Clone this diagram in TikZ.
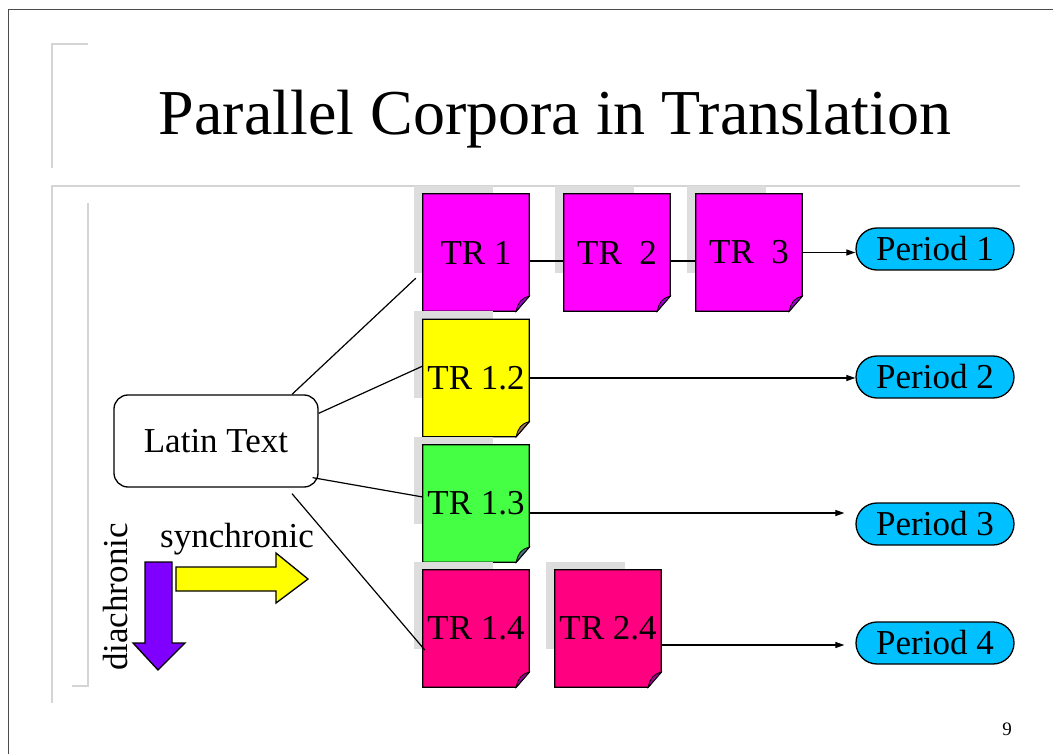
\documentclass[tikz,border=0pt]{standalone}
\usepackage{fontspec}
\setmainfont{Liberation Serif}
\usetikzlibrary{arrows.meta,calc}
\pgfdeclarelayer{base}
\pgfdeclarelayer{bg}
\pgfsetlayers{base,bg,main}
\definecolor{cMag}{HTML}{FF00FF}
\definecolor{cYel}{HTML}{FFFF00}
\definecolor{cGrn}{HTML}{44FF44}
\definecolor{cPnk}{HTML}{FF0080}
\definecolor{cCya}{HTML}{00C0FF}
\definecolor{cPur}{HTML}{8000FF}
\definecolor{cShd}{HTML}{DDDDDD}
\definecolor{cFrm}{HTML}{D4D4D4}
\newcommand\mydocbox[2]{%
  \begin{pgfonlayer}{bg}
    \fill[cShd] ($(#1.north west)+(-9,-8)$) rectangle ($(#1.north west)+(70,79)$);
    \filldraw[fill=#2,draw=black,line width=1.3pt,line join=miter]
      (#1.north west) -- (#1.north east) -- ($(#1.south east)+(0,-15)$)
      -- ($(#1.south east)+(-13,0)$) -- (#1.south west) -- cycle;
    \filldraw[fill=#2!55!cPur!80!black,draw=black,line width=0.8pt]
      ($(#1.south east)+(0,-15)$) .. controls ($(#1.south east)+(-8,-13)$) and ($(#1.south east)+(-11,-9)$) .. ($(#1.south east)+(-13,0)$) -- cycle;
  \end{pgfonlayer}}
\tikzset{
  doc/.style={minimum width=106pt,minimum height=117pt,inner sep=0pt,font=\fontsize{35}{40}\selectfont},
  period/.style={draw,fill=cCya,rounded corners=21pt,minimum width=158pt,minimum height=42pt,inner sep=0pt,line width=1.3pt,font=\fontsize{35}{40}\selectfont},
  conn/.style={line width=1.2pt},
  arr/.style={line width=1.2pt,-{Triangle[length=9pt,width=6pt]}},
  frm/.style={cFrm,line width=1.2pt},
  big/.style={line width=1.3pt,line join=miter}
}
\begin{document}
\begin{tikzpicture}[x=1pt,y=-1pt]
\useasboundingbox (0,0) rectangle (1053,754);
\begin{pgfonlayer}{base}
  \fill[white] (0,0) rectangle (1053,754);
  \draw[frm] (88,44) -- (52,44) -- (52,168);
  \draw[frm] (1020,186) -- (52,186) -- (52,703);
  \draw[frm] (88,203) -- (88,686) -- (72,686);
\end{pgfonlayer}
\draw[line width=1pt,black!70] (8,754) -- (8,10) -- (1053,10);

\node[anchor=base,font=\fontsize{64}{70}\selectfont] (title) at (555,135) {Parallel Corpora in Translation};

\node[doc] (tr1) at (476,252.5) {TR 1};
\node[doc] (tr2) at (617,252.5) {TR\ \ 2};
\node[doc] (tr3) at (749,252.5) {TR\ \ 3};
\node[doc] (tr12) at (476,378) {TR 1.2};
\node[doc] (tr13) at (476,503.5) {TR 1.3};
\node[doc] (tr14) at (476,628.5) {TR 1.4};
\node[doc] (tr24) at (608,628.5) {TR 2.4};
\mydocbox{tr1}{cMag}
\mydocbox{tr2}{cMag}
\mydocbox{tr3}{cMag}
\mydocbox{tr12}{cYel}
\mydocbox{tr13}{cGrn}
\mydocbox{tr14}{cPnk}
\mydocbox{tr24}{cPnk}

\node[draw,fill=white,rounded corners=14pt,minimum width=204pt,minimum height=92pt,line width=1.3pt,inner sep=0pt,font=\fontsize{35}{40}\selectfont] (latin) at (216,441) {Latin Text};

\node[period] (p1) at (935,249) {Period 1};
\node[period] (p2) at (935,377) {Period 2};
\node[period] (p3) at (935,524) {Period 3};
\node[period] (p4) at (935,643) {Period 4};

\draw[conn] ($(latin.north)+(76,0)$) -- ($(tr1.south west)+(-7,-33)$);
\draw[conn] ($(latin.north east)+(0,19)$) -- ($(tr12.west)+(0,-12)$);
\draw[conn] ($(latin.south east)+(-6,-10)$) -- ($(tr13.west)+(0,-6.5)$);
\draw[conn] ($(latin.south)+(76,6)$) -- ($(tr14.west)+(2,21.5)$);

\draw[conn] ($(tr1.east)+(0,8.5)$) -- ($(tr2.west)+(0,8.5)$);
\draw[conn] ($(tr2.east)+(0,8.5)$) -- ($(tr3.west)+(0,8.5)$);
\draw[arr] (tr3.east) -- (tr3.east -| p1.west);
\draw[arr] (tr12.east) -- (tr12.east -| p2.west);
\draw[arr] ($(tr13.east)+(0,9.5)$) -- ($(p3.west)+(-11,-11)$);
\draw[arr] ($(tr24.east)+(0,16.5)$) -- ($(p4.west)+(-11,2)$);

\filldraw[fill=cPur,big] (145,562) -- (172,562) -- (172,643) -- (185,643) -- (158,670) -- (133,643) -- (145,643) -- cycle;
\filldraw[fill=cYel,big] (176,567) -- (276,567) -- (276,553) -- (308,579) -- (276,603) -- (276,591) -- (176,591) -- cycle;
\node[anchor=base,font=\fontsize{35}{40}\selectfont] (syn) at (237,547) {synchronic};
\node[anchor=base,rotate=90,font=\fontsize{35}{40}\selectfont] (dia) at (127,597) {diachronic};

\node[anchor=base,font=\fontsize{19}{22}\selectfont] (num) at (1007,735) {9};
\end{tikzpicture}
\end{document}
